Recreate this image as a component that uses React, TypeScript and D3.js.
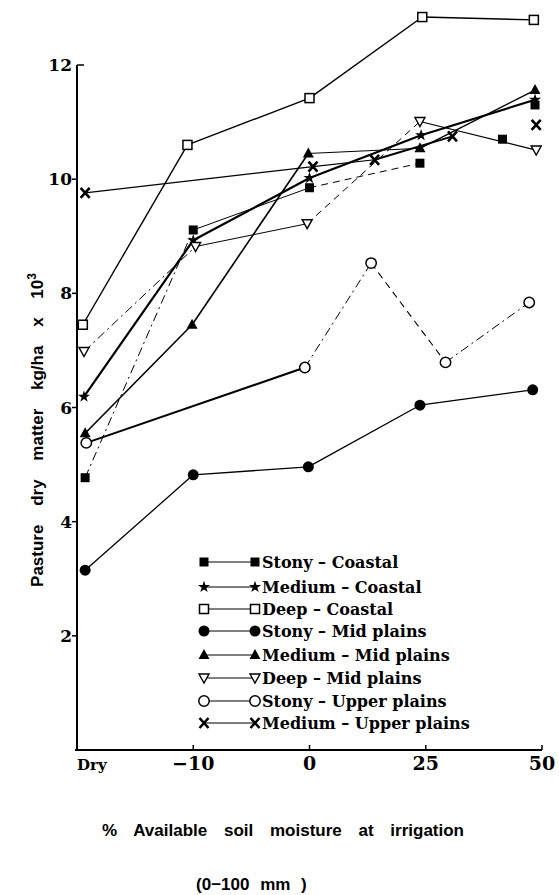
import React from "react";
import * as d3 from "d3";

// ---------- DATA ----------
const categories = ["Dry", "\u221210", "0", "25", "50"];
const yTicks = [2, 4, 6, 8, 10, 12];

const seriesNames = [
  "Stony \u2013 Coastal",
  "Medium \u2013  Coastal",
  "Deep \u2013 Coastal",
  "Stony \u2013 Mid  plains",
  "Medium \u2013 Mid plains",
  "Deep \u2013 Mid plains",
  "Stony \u2013 Upper  plains",
  "Medium \u2013 Upper plains",
];

// x positions are in category units (0 = Dry, 1 = -10, 2 = 0, 3 = 25, 4 = 50)
const stonyCoastalX = [0.07, 1.0, 2.0, 2.95, 3.66, 3.94];
const stonyCoastalY = [4.77, 9.11, 9.85, 10.28, 10.7, 11.3];
const mediumCoastalX = [0.06, 1.0, 2.0, 2.96, 3.94];
const mediumCoastalY = [6.19, 8.93, 10.02, 10.77, 11.39];
const deepCoastalX = [0.05, 0.95, 2.0, 2.97, 3.93];
const deepCoastalY = [7.45, 10.6, 11.42, 12.84, 12.79];
const stonyMidX = [0.07, 1.0, 1.99, 2.95, 3.92];
const stonyMidY = [3.15, 4.82, 4.96, 6.04, 6.31];
const mediumMidX = [0.07, 0.99, 1.99, 2.95, 3.94];
const mediumMidY = [5.55, 7.45, 10.45, 10.54, 11.56];
const deepMidX = [0.06, 1.02, 1.98, 2.95, 3.95];
const deepMidY = [6.98, 8.82, 9.22, 11.01, 10.51];
const stonyUpperX = [0.08, 1.96, 2.53, 3.17, 3.89];
const stonyUpperY = [5.38, 6.7, 8.53, 6.79, 7.84];
const mediumUpperX = [0.07, 2.03, 2.56, 3.23, 3.95];
const mediumUpperY = [9.76, 10.22, 10.34, 10.75, 10.95];

const seriesX = [stonyCoastalX, mediumCoastalX, deepCoastalX, stonyMidX, mediumMidX, deepMidX, stonyUpperX, mediumUpperX];
const seriesY = [stonyCoastalY, mediumCoastalY, deepCoastalY, stonyMidY, mediumMidY, deepMidY, stonyUpperY, mediumUpperY];

// ---------- STYLE ----------
const markers = ["fsq", "star", "osq", "fcir", "ftri", "otri", "ocir", "x"];
// segment styles: s solid, d dashed, dd dash-dot, n none
const segStyles = [
  ["dd", "s", "d", "n", "n"],
  ["s", "s", "s", "s"],
  ["s", "s", "s", "s"],
  ["s", "s", "s", "s"],
  ["s", "s", "s", "s"],
  ["dd", "s", "d", "s"],
  ["s", "dd", "d", "dd"],
  ["s", "s", "s", "n"],
];
const segWidths = [
  [1, 1, 1, 1, 1],
  [2.2, 2.2, 2.2, 2.2],
  [1.4, 1.4, 1.4, 1.4],
  [1.3, 1.3, 1.3, 1.3],
  [1.6, 1.6, 1.0, 1.4],
  [1, 1, 1, 1.2],
  [2, 1, 1.1, 1],
  [1.2, 1.2, 2, 1],
];
const dashMap: Record<string, string | undefined> = {
  s: undefined,
  d: "7 5",
  dd: "9 4 2 4",
};

const W = 559;
const H = 895;
const x = d3.scaleLinear().domain([0, 4]).range([77, 542]);
const y = d3.scaleLinear().domain([0, 12]).range([750, 65]);

function Marker({ type, cx, cy }: { type: string; cx: number; cy: number }) {
  switch (type) {
    case "fsq":
      return <rect x={cx - 4.5} y={cy - 4.5} width={9} height={9} fill="#000" />;
    case "star":
      return <path d={d3.symbol().type(d3.symbolStar).size(45)()!} transform={`translate(${cx},${cy})`} fill="#000" />;
    case "osq":
      return <rect x={cx - 4.5} y={cy - 4.5} width={9} height={9} fill="#fff" stroke="#000" strokeWidth={1.5} />;
    case "fcir":
      return <circle cx={cx} cy={cy} r={5.5} fill="#000" />;
    case "ftri":
      return <path d={`M${cx},${cy - 6} L${cx + 5.5},${cy + 4} L${cx - 5.5},${cy + 4} Z`} fill="#000" />;
    case "otri":
      return <path d={`M${cx - 5},${cy - 4} L${cx + 5},${cy - 4} L${cx},${cy + 5} Z`} fill="#fff" stroke="#000" strokeWidth={1.4} />;
    case "ocir":
      return <circle cx={cx} cy={cy} r={5.2} fill="#fff" stroke="#000" strokeWidth={1.5} />;
    case "x":
      return (
        <path
          d={`M${cx - 4.5},${cy - 5} L${cx + 4.5},${cy + 5} M${cx + 4.5},${cy - 5} L${cx - 4.5},${cy + 5}`}
          stroke="#000"
          strokeWidth={2.6}
          fill="none"
        />
      );
  }
  return null;
}

const legendY = [562, 587, 609, 631, 655, 678, 701, 723];

export default function App() {
  const line = d3.line<[number, number]>().x((d) => x(d[0])).y((d) => y(d[1]));
  const serifBold = "'DejaVu Serif', serif";
  const sansBold = "'Liberation Sans', Arial, sans-serif";
  return (
    <svg
      width={W}
      height={H}
      style={{ position: "absolute", left: 0, top: 0, background: "#fff" }}
      viewBox={`0 0 ${W} ${H}`}
    >
      <rect width={W} height={H} fill="#fff" />
      {/* axes */}
      <line x1={x(0)} x2={x(0)} y1={y(12)} y2={y(0)} stroke="#000" strokeWidth={2} />
      <line x1={x(0) - 2} x2={x(4)} y1={y(0)} y2={y(0)} stroke="#000" strokeWidth={2} />
      {yTicks.map((t) => (
        <g key={t}>
          <line
            x1={t === 12 ? x(0) : x(0) - 5}
            x2={t === 12 ? x(0) + 7 : x(0)}
            y1={y(t)}
            y2={y(t)}
            stroke="#000"
            strokeWidth={1.5}
          />
          <text
            x={x(0) - 5}
            y={y(t) + 6}
            textAnchor="end"
            fontFamily={serifBold}
            fontWeight="bold"
            fontSize={17}
          >
            {t}
          </text>
        </g>
      ))}
      {categories.map((c, i) => (
        <g key={c}>
          {i > 0 && <line x1={x(i)} x2={x(i)} y1={y(0)} y2={y(0) - 5} stroke="#000" strokeWidth={1.5} />}
          <text
            x={i === 0 ? x(0) : x(i)}
            y={y(0) + 20}
            textAnchor={i === 0 ? "start" : "middle"}
            fontFamily={serifBold}
            fontWeight="bold"
            fontSize={i === 0 ? 15 : 19}
          >
            {c}
          </text>
        </g>
      ))}
      {/* axis titles */}
      <text
        transform={`translate(43,430) rotate(-90)`}
        textAnchor="middle"
        fontFamily={sansBold}
        fontWeight="bold"
        fontSize={17}
        wordSpacing={14}
      >
        Pasture dry matter kg/ha x 10<tspan dy={-7} fontSize={12}>3</tspan>
      </text>
      <text x={102} y={836} fontFamily={sansBold} fontWeight="bold" fontSize={17} wordSpacing={12}>
        % Available soil moisture at irrigation
      </text>
      <text x={196} y={890} fontFamily={sansBold} fontWeight="bold" fontSize={17} wordSpacing={6}>
        (0{"\u2212"}100 mm )
      </text>

      {/* lines */}
      {seriesX.map((xs, si) =>
        xs.slice(1).map((_, k) => {
          const st = segStyles[si][k];
          if (st === "n") return null;
          const p: [number, number][] = [
            [xs[k], seriesY[si][k]],
            [xs[k + 1], seriesY[si][k + 1]],
          ];
          return (
            <path
              key={`${si}-${k}`}
              d={line(p)!}
              stroke="#000"
              strokeWidth={segWidths[si][k]}
              strokeDasharray={dashMap[st]}
              fill="none"
            />
          );
        })
      )}
      {/* markers */}
      {seriesX.map((xs, si) =>
        xs.map((xv, k) => <Marker key={`m${si}-${k}`} type={markers[si]} cx={x(xv)} cy={y(seriesY[si][k])} />)
      )}

      {/* legend */}
      {seriesNames.map((n, i) => (
        <g key={n}>
          <line x1={204} x2={255} y1={legendY[i]} y2={legendY[i]} stroke="#000" strokeWidth={1.2} />
          <Marker type={markers[i]} cx={204} cy={legendY[i]} />
          <Marker type={markers[i]} cx={255} cy={legendY[i]} />
          <text
            x={262}
            y={legendY[i] + 5.5}
            fontFamily={serifBold}
            fontWeight="bold"
            fontSize={16}
          >
            {n}
          </text>
        </g>
      ))}
    </svg>
  );
}
